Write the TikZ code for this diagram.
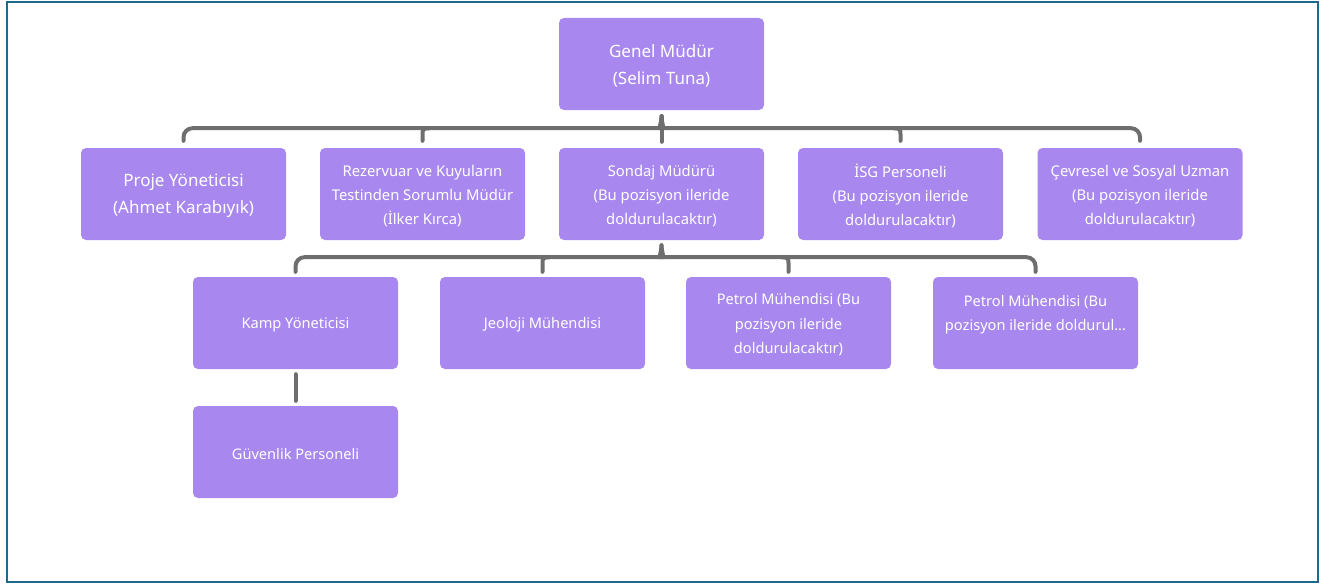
\documentclass[tikz,border=0pt]{standalone}
\usepackage{fontspec}
\setmainfont{Noto Sans}
\usetikzlibrary{calc}
\definecolor{boxfill}{HTML}{A888EE}
\definecolor{linegray}{HTML}{6E6E6E}
\definecolor{frameblue}{HTML}{21698C}
\tikzset{
  box/.style={fill=boxfill, rounded corners=5pt, minimum width=205pt, minimum height=92pt,
    inner sep=0pt},
  txt/.style 2 args={label={[#1, align=center, text=white, yshift=-2pt]center:{#2}}},
  big/.style={font=\fontsize{17}{27}\selectfont},
  mid/.style={font=\fontsize{14.8}{24}\selectfont},
  small/.style={font=\fontsize{14.6}{24.5}\selectfont},
  conn/.style={draw=linegray, line width=4pt, line cap=round}
}
\begin{document}
\begin{tikzpicture}[x=1pt,y=-1pt]
\useasboundingbox (0,0) rectangle (1333,586);
\draw[frameblue, line width=2pt] (7,2) rectangle (1318,582);

\node[box, txt={big}{Genel Müdür\\(Selim Tuna)}] (gm) at (661.5,64) {};

\node[box, txt={big}{Proje Yöneticisi\\(Ahmet Karabıyık)}] (pm) at (183.5,194) {};
\node[box, txt={mid}{Rezervuar ve Kuyuların\\Testinden Sorumlu Müdür\\(İlker Kırca)}] (rz) at (422.5,194) {};
\node[box, txt={mid}{Sondaj Müdürü\\(Bu pozisyon ileride\\doldurulacaktır)}] (sd) at (661.5,194) {};
\node[box, txt={mid}{İSG Personeli\\(Bu pozisyon ileride\\doldurulacaktır)}] (isg) at (900.5,194) {};
\node[box, txt={mid}{Çevresel ve Sosyal Uzman\\(Bu pozisyon ileride\\doldurulacaktır)}] (cv) at (1140,194) {};

\node[box, txt={small}{Kamp Yöneticisi}] (kamp) at (295.5,323) {};
\node[box, txt={small}{Jeoloji Mühendisi}] (jeo) at (542.5,323) {};
\node[box, txt={small}{Petrol Mühendisi (Bu\\pozisyon ileride\\doldurulacaktır)}] (pet1) at (788.5,323) {};
\node[box, txt={small}{Petrol Mühendisi (Bu\\pozisyon ileride doldurul...\\\phantom{x}}] (pet2) at (1035.5,323) {};

\node[box, txt={small}{Güvenlik Personeli}] (guv) at (295.5,452) {};

% top bracket
\coordinate (t1) at ($(gm.south)+(0,6)$);
\coordinate (h1) at ($(gm.south)+(0,18)$);
\draw[conn, rounded corners=9pt] ($(pm.north)+(0,-7)$) |- ($(h1)+(-10,0)$)
  .. controls ($(h1)+(-3,0)$) and ($(t1)+(0,7)$) .. (t1);
\draw[conn, rounded corners=9pt] ($(cv.north)+(0,-7)$) |- ($(h1)+(10,0)$)
  .. controls ($(h1)+(3,0)$) and ($(t1)+(0,7)$) .. (t1);
\draw[conn] (t1) -- ($(sd.north)+(0,-6)$);
\coordinate (hrz) at (rz.north |- h1);
\draw[conn] ($(hrz)+(7,0)$) .. controls ($(hrz)+(1,0)$) and ($(hrz)+(0,1)$) .. ($(hrz)+(0,6)$) -- ($(rz.north)+(0,-7)$);
\coordinate (hisg) at (isg.north |- h1);
\draw[conn] ($(hisg)+(-7,0)$) .. controls ($(hisg)+(-1,0)$) and ($(hisg)+(0,1)$) .. ($(hisg)+(0,6)$) -- ($(isg.north)+(0,-7)$);

% second bracket
\coordinate (t2) at ($(sd.south)+(0,5)$);
\coordinate (h2) at ($(sd.south)+(0,17)$);
\draw[conn, rounded corners=9pt] ($(kamp.north)+(0,-5)$) |- ($(h2)+(-10,0)$)
  .. controls ($(h2)+(-3,0)$) and ($(t2)+(0,7)$) .. (t2);
\draw[conn, rounded corners=9pt] ($(pet2.north)+(0,-5)$) |- ($(h2)+(10,0)$)
  .. controls ($(h2)+(3,0)$) and ($(t2)+(0,7)$) .. (t2);
\coordinate (hjeo) at (jeo.north |- h2);
\draw[conn] ($(hjeo)+(7,0)$) .. controls ($(hjeo)+(1,0)$) and ($(hjeo)+(0,1)$) .. ($(hjeo)+(0,6)$) -- ($(jeo.north)+(0,-5)$);
\coordinate (hpet) at (pet1.north |- h2);
\draw[conn] ($(hpet)+(-7,0)$) .. controls ($(hpet)+(-1,0)$) and ($(hpet)+(0,1)$) .. ($(hpet)+(0,6)$) -- ($(pet1.north)+(0,-5)$);

% Kamp -> Güvenlik
\draw[conn] ($(kamp.south)+(0,5)$) -- ($(guv.north)+(0,-5)$);
\end{tikzpicture}
\end{document}
